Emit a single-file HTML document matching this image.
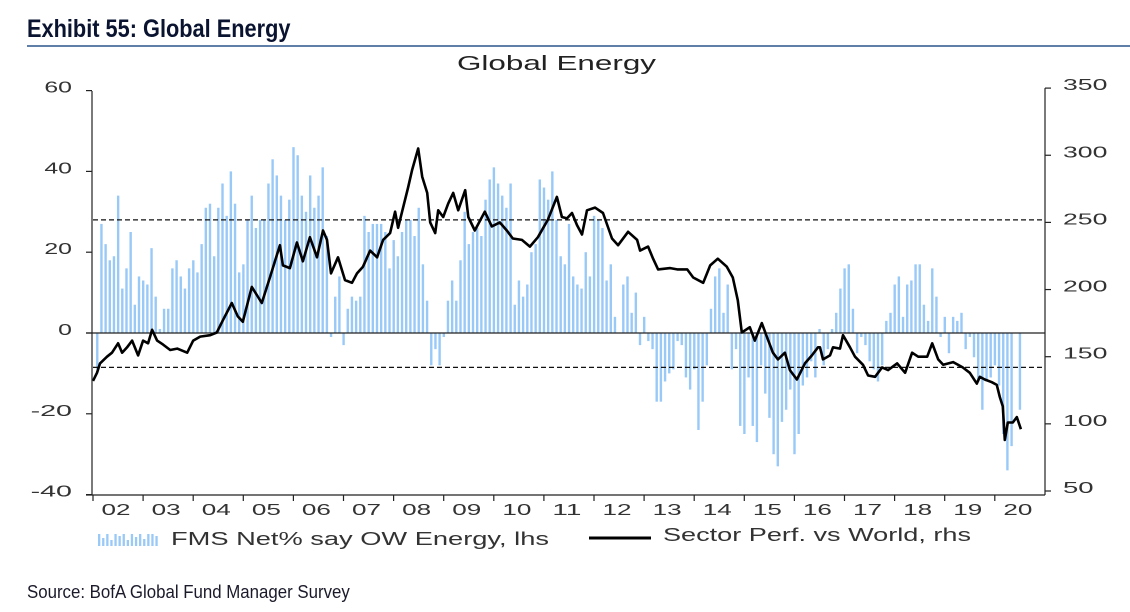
<!DOCTYPE html>
<html>
<head>
<meta charset="utf-8">
<style>
html,body{margin:0;padding:0;background:#fff;}
body{width:1130px;height:612px;overflow:hidden;position:relative;font-family:"Liberation Sans",sans-serif;}
#title{position:absolute;left:27px;top:15px;font-family:"Liberation Sans",sans-serif;font-weight:bold;font-size:25px;color:#0a1430;transform:scaleX(0.87);transform-origin:0 0;white-space:nowrap;}
#rule{position:absolute;left:27px;top:45px;width:1103px;height:2px;background:#5f7ea8;}
#source{position:absolute;left:27px;top:582px;font-family:"Liberation Sans",sans-serif;font-size:18px;color:#1a1a2a;transform:scaleX(0.935);transform-origin:0 0;white-space:nowrap;}
svg{position:absolute;left:0;top:0;}
</style>
</head>
<body>
<div id="title">Exhibit 55: Global Energy</div>
<div id="rule"></div>
<svg id="chart" width="1130" height="612"></svg>
<div id="source">Source: BofA Global Fund Manager Survey</div>
<script>
// FMS Net% say OW Energy (monthly, starting Feb 2002)
const barStartYear = 2002;
const barStartMonth = 1; // Feb
const barValues = [
-9,27,22,18,19,34,11,16,25,7,14,13,
12,21,9,1,6,6,16,18,14,11,16,18,
15,22,31,32,19,31,37,29,40,32,15,17,
28,34,26,28,28,37,43,39,34,28,33,46,
44,34,30,39,31,34,41,24,-1,9,14,
-3,6,9,8,9,29,25,27,27,27,25,16,
23,19,25,28,28,24,31,17,8,-8,-4,-8,
-1,8,13,8,18,30,22,25,26,24,33,38,
41,37,34,31,37,7,13,9,12,20,22,38,
36,33,40,28,19,17,27,14,12,
11,20,14,29,28,26,13,17,4,0,
12,14,5,10,-3,4,-2,-4,-17,-17,
-12,-10,-9,-2,-3,-11,-14,-9,-24,-17,
-8,6,14,16,5,12,-9,-4,-23,-25,
-11,-23,-27,-8,-15,-21,-30,-33,-22,-19,
-14,-30,-25,-13,-11,-7,-11,1,
-8,-4,1,5,11,16,17,6,-5,-1,
-3,-7,-9,-12,-8,3,5,12,14,4,
12,13,17,17,7,3,16,9,-1,4,
-5,4,3,5,-4,-1,-6,-12,-19,-12,
-11,-8,-13,-25,-34,-28,0,-19
];
// Sector Perf. vs World (rhs)
const lineDates = [2002.04,2002.12,2002.18,2002.32,2002.42,2002.54,2002.62,2002.72,2002.82,2002.94,2003.04,2003.14,2003.22,2003.32,2003.44,2003.58,2003.72,2003.92,2004.04,2004.18,2004.38,2004.51,2004.63,2004.81,2004.93,2005.03,2005.21,2005.41,2005.57,2005.77,2005.83,2005.97,2006.11,2006.23,2006.37,2006.51,2006.63,2006.71,2006.79,2006.93,2007.07,2007.21,2007.31,2007.43,2007.57,2007.71,2007.83,2007.97,2008.07,2008.13,2008.23,2008.33,2008.41,2008.53,2008.61,2008.71,2008.77,2008.87,2008.93,2009.03,2009.13,2009.23,2009.33,2009.47,2009.53,2009.66,2009.86,2010.00,2010.16,2010.30,2010.42,2010.60,2010.76,2010.92,2011.12,2011.30,2011.40,2011.50,2011.60,2011.70,2011.80,2011.90,2012.06,2012.22,2012.40,2012.52,2012.72,2012.90,2012.96,2013.12,2013.22,2013.32,2013.56,2013.70,2013.90,2014.02,2014.22,2014.36,2014.51,2014.69,2014.81,2014.91,2014.99,2015.15,2015.25,2015.39,2015.49,2015.61,2015.71,2015.85,2015.95,2016.09,2016.25,2016.39,2016.51,2016.55,2016.61,2016.75,2016.81,2016.95,2017.01,2017.15,2017.25,2017.41,2017.51,2017.65,2017.79,2017.91,2018.09,2018.25,2018.39,2018.51,2018.69,2018.79,2018.91,2019.01,2019.21,2019.40,2019.54,2019.68,2019.74,2019.84,2019.98,2020.08,2020.14,2020.20,2020.24,2020.30,2020.40,2020.48,2020.56];
const lineValues = [132,138,145,150,153,160,153,157,162,151,162,160,170,162,159,155,156,153,162,165,166,168,177,190,180,176,202,190,209,233,218,216,235,221,239,224,244,237,212,224,207,205,212,217,229,224,237,242,258,246,261,276,289,305,284,272,250,242,259,254,264,272,259,274,254,244,258,247,250,244,238,237,232,239,252,269,254,253,257,248,241,259,261,257,238,233,243,237,229,232,223,215,216,215,215,209,205,218,223,217,209,192,168,172,162,175,165,153,148,153,140,133,145,151,157,157,148,151,157,156,166,157,150,144,136,135,142,140,145,138,153,150,150,160,148,144,146,142,138,130,135,133,131,129,120,113,88,101,101,105,96];
const lhsTicks = [60,40,20,0,-20,-40];
const rhsTicks = [350,300,250,200,150,100,50];
const yearLabels = ["02","03","04","05","06","07","08","09","10","11","12","13","14","15","16","17","18","19","20"];
const refLines = [28,-8.5]; // dashed reference levels (lhs units)

const NS="http://www.w3.org/2000/svg";
const svg=document.getElementById('chart');
const X0=91, YW=50.1;
function xT(t){return X0+(t-2002)*YW;}
function yL(v){return 333-v*4.04;}
function yR(v){return 491-(v-50)*1.343;}
function mk(tag,attrs){const e=document.createElementNS(NS,tag);for(const k in attrs)e.setAttribute(k,attrs[k]);svg.appendChild(e);return e;}
function numW(s){return String(s).length*13.8;}

// chart title
let t=mk('text',{x:457,y:70,'font-size':20,fill:'#222',textLength:199,lengthAdjust:'spacingAndGlyphs'});
t.textContent='Global Energy';



// bars
barValues.forEach((v,i)=>{
  const tt=barStartYear+(barStartMonth+i+0.5)/12;
  const x=xT(tt);
  const y0=yL(0), y1=yL(v);
  const r=mk('rect',{x:(x-1.2).toFixed(2),y:Math.min(y0,y1).toFixed(2),width:2.4,height:Math.max(0.5,Math.abs(y1-y0)).toFixed(2),fill:'#99c9f7'});
  
  
});

// zero line
let z=mk('line',{x1:86,x2:1045,y1:yL(0),y2:yL(0),stroke:'#222','stroke-width':1.2});


refLines.forEach(v=>{
  const d=mk('line',{x1:93,x2:1045,y1:yL(v),y2:yL(v),stroke:'#111','stroke-width':1.2,'stroke-dasharray':'5,3'});
  
  
});

// line
let pts=lineDates.map((d,i)=>xT(d).toFixed(1)+','+yR(lineValues[i]).toFixed(1)).join(' ');
let pl=mk('polyline',{points:pts,fill:'none',stroke:'#000','stroke-width':2.6,'stroke-linejoin':'round'});



// axes
let la=mk('line',{x1:92,x2:92,y1:91,y2:495,stroke:'#222','stroke-width':1.2});


let ra=mk('line',{x1:1045,x2:1045,y1:yR(350),y2:495,stroke:'#222','stroke-width':1.2});


let ba=mk('line',{x1:86,x2:1045,y1:495,y2:495,stroke:'#222','stroke-width':1.2});



lhsTicks.forEach(v=>{
  const y=yL(v);
  mk('line',{x1:86,x2:92,y1:y,y2:y,stroke:'#222','stroke-width':1.2});
  const w=numW(v);
  const tx=mk('text',{x:72-w,y:y+2,'font-size':16,fill:'#333',textLength:w,lengthAdjust:'spacingAndGlyphs'});
  tx.textContent=v;
  
  
});
rhsTicks.forEach(v=>{
  const y=yR(v);
  mk('line',{x1:1045,x2:1051,y1:y,y2:y,stroke:'#222','stroke-width':1.2});
  const w=numW(v)+3;
  const tx=mk('text',{x:1063,y:y+2,'font-size':16,fill:'#333',textLength:w,lengthAdjust:'spacingAndGlyphs'});
  tx.textContent=v;
  
  
});
yearLabels.forEach((lab,i)=>{
  const xb=xT(2002+i);
  mk('line',{x1:xb+2,x2:xb+2,y1:495,y2:501,stroke:'#222','stroke-width':1.2});
  const tx=mk('text',{x:xT(2002+i+0.5)-14.5,y:515,'font-size':16,fill:'#333',textLength:29,lengthAdjust:'spacingAndGlyphs'});
  tx.textContent=lab;
  
  
});

// legend
const legH=[12,8,12,6,12,10,12,6,12,9,12,7,12,12,10];
legH.forEach((h,i)=>{
  const r=mk('rect',{x:98+i*4.1,y:546-h,width:2.3,height:h,fill:'#99c9f7'});
  
  
});
let l1=mk('text',{x:171,y:545,'font-size':18,fill:'#333',textLength:378,lengthAdjust:'spacingAndGlyphs'});
l1.textContent='FMS Net% say OW Energy, lhs';


let ll=mk('line',{x1:589,x2:651,y1:538,y2:538,stroke:'#000','stroke-width':3});


let l2=mk('text',{x:663,y:541,'font-size':18,fill:'#333',textLength:308,lengthAdjust:'spacingAndGlyphs'});
l2.textContent='Sector Perf. vs World, rhs';


</script>
</body>
</html>
